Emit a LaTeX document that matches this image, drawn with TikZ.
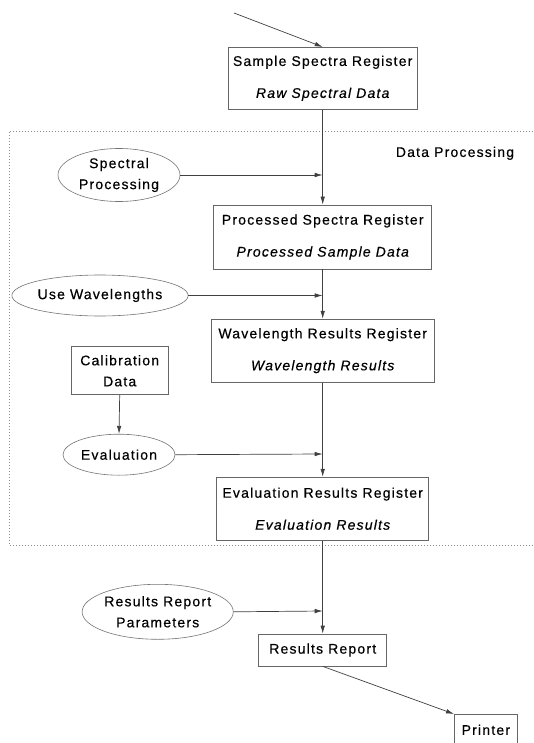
\documentclass[tikz,border=0pt]{standalone}
\usepackage{fontspec}
\setmainfont[LetterSpace=8.5,FakeBold=0.4]{Liberation Sans}
\usetikzlibrary{arrows.meta,shapes.geometric}
\tikzset{
  reg/.style={draw=black!60, line width=0.7pt, inner sep=0pt, align=center,
    font=\fontsize{14}{32}\selectfont},
  sbox/.style={draw=black!60, line width=0.7pt, inner sep=0pt, align=center,
    font=\fontsize{14}{21}\selectfont},
  proc/.style={ellipse, draw=black!55, line width=0.6pt, inner sep=0pt, align=center,
    font=\fontsize{14}{21}\selectfont},
  arr/.style={draw=black!75, line width=0.7pt, -{Latex[length=8pt,width=4.5pt]}},
  frame/.style={draw=black!45, line width=0.6pt, dash pattern=on 0.8pt off 2.2pt},
  lbl/.style={font=\fontsize{14}{17}\selectfont, inner sep=0pt}
}
\begin{document}
\begin{tikzpicture}[x=1pt,y=-1pt]
\useasboundingbox (0,0) rectangle (534,743);
% data processing frame
\draw[frame] (545,131.5) -| (9,545) -- (545,545);
\node[lbl] (dp) at (455,153.3) {Data Processing};

% registers
\node[reg, minimum width=189, minimum height=62] (samp) at (322.7,78.3)
  {Sample Spectra Register\\{\itshape Raw Spectral Data}};
\node[reg, minimum width=218, minimum height=64] (procr) at (322.7,237)
  {Processed Spectra Register\\{\itshape Processed Sample Data}};
\node[reg, minimum width=223, minimum height=63] (wave) at (322.7,350.7)
  {Wavelength Results Register\\{\itshape Wavelength Results}};
\node[reg, minimum width=212, minimum height=63] (eval) at (322.7,508.7)
  {Evaluation Results Register\\{\itshape Evaluation Results}};
\node[sbox, minimum width=128, minimum height=32] (rr) at (322.7,650) {Results Report};
\node[sbox, minimum width=63, minimum height=31, anchor=north west] (prn) at (454,714) {Printer};
\node[sbox, minimum width=97, minimum height=48] (cal) at (119.7,370.8) {Calibration\\Data};

% processes
\node[proc, minimum width=122, minimum height=53] (sp) at (119,175) {Spectral\\Processing};
\node[proc, minimum width=165, minimum height=41] (uw) at (100,295.5) {Use Wavelengths};
\node[proc, minimum width=112, minimum height=41] (ev) at (119,454.7) {Evaluation};
\node[proc, minimum width=143, minimum height=55] (rrp) at (157.7,611.8) {Results Report\\Parameters};

% junctions on the main line
\coordinate (src) at (234,13);
\coordinate (j1) at (322.7,175);
\coordinate (j2) at (322.7,295.5);
\coordinate (j3) at (322.7,454);
\coordinate (j4) at (322.7,611);

% connectors
\draw[arr] (src) -- (samp.north);
\draw[arr] (samp.south) -- (procr.north);
\draw[arr] (procr.south) -- (wave.north);
\draw[arr] (wave.south) -- (eval.north);
\draw[arr] (eval.south) -- (rr.north);
\draw[arr] (rr.south) -- (prn.north west);
\draw[arr] (cal.south) -- (ev.north);
\draw[arr] (sp.east) -- (j1);
\draw[arr] (uw.east) -- (j2);
\draw[arr] (ev.east) -- (j3);
\draw[arr] (rrp.east) -- (j4);
\end{tikzpicture}
\end{document}
